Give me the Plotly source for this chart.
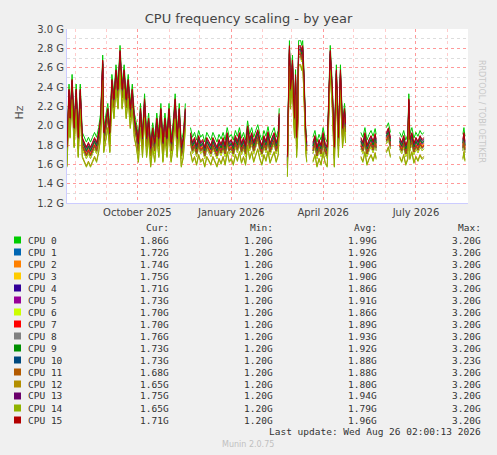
import pandas as pd
import plotly.graph_objects as go

# ── Datos ─────────────────────────────────────────────────────────────────────
START = pd.Timestamp("2025-07-24")
# tramos de datos: días desde START y valor medio (GHz)
SEG_DAYS = [
    [0, 2, 3, 5, 7, 9, 11, 13, 15, 17, 19, 21, 23, 25, 27, 29, 31, 33, 35, 36, 38, 40, 42, 44, 46,
     48, 50, 52, 54, 56, 58, 60, 62, 64, 66, 68, 70, 72, 74, 76, 78, 80, 82, 84, 86, 88, 90, 92, 94,
     96, 98, 100, 102, 104, 106, 108, 110, 112, 114, 116],
    [121, 123, 125, 127, 129, 131, 133, 135, 137, 139, 141, 143, 145, 147, 149, 151, 153, 155, 157,
     159, 161, 163, 165, 167, 169, 171, 173, 175, 177, 179, 181, 183, 185, 187, 189, 191, 193, 195,
     197, 199, 201, 203, 205, 207, 208],
    [216, 218, 219, 221, 222, 223, 224, 225, 226, 227, 228, 229, 230, 231, 232, 233, 234, 235],
    [241, 243, 245, 247, 249, 251, 253, 255, 256, 258, 260, 262, 264, 266, 268, 270, 272, 273],
    [288, 290, 292, 294, 296, 298, 300, 302, 303],
    [313, 315, 317],
    [326, 328, 330, 332, 334, 335, 336, 338, 340, 342, 344, 346, 348, 350],
    [388, 389, 390],
]
SEG_VALS = [
    [1.70, 2.30, 2.00, 2.40, 1.90, 2.30, 1.80, 2.30, 1.80, 1.75, 1.70, 1.75, 1.70, 1.75, 1.80, 1.75,
     1.85, 2.00, 2.60, 1.85, 2.00, 2.10, 1.85, 2.40, 2.20, 2.50, 2.30, 2.70, 2.30, 2.50, 2.20, 2.40,
     2.10, 2.30, 2.00, 1.90, 1.75, 2.10, 1.80, 2.20, 1.80, 2.00, 1.70, 1.90, 1.75, 2.00, 1.80, 2.10,
     1.75, 2.00, 1.80, 2.10, 1.75, 1.90, 2.20, 1.80, 2.10, 1.70, 1.80, 2.10],
    [1.85, 1.75, 1.80, 1.72, 1.82, 1.75, 1.78, 1.70, 1.80, 1.76, 1.72, 1.80, 1.75, 1.70, 1.78, 1.73,
     1.80, 1.72, 1.85, 1.75, 1.78, 1.72, 1.82, 1.76, 1.85, 1.74, 1.80, 1.72, 1.92, 1.78, 1.85, 1.75,
     1.82, 1.88, 1.78, 1.72, 1.82, 1.76, 1.86, 1.74, 1.80, 1.85, 1.75, 1.82, 2.05],
    [1.60, 2.75, 2.30, 2.60, 2.20, 2.00, 2.45, 1.80, 2.00, 2.75, 2.75, 2.75, 2.70, 2.75, 2.50, 2.00,
     1.85, 1.75],
    [1.75, 1.82, 1.70, 1.78, 1.72, 1.85, 1.74, 1.70, 2.00, 2.70, 2.30, 1.70, 2.50, 1.80, 2.50, 1.90,
     2.10, 1.95],
    [1.80, 1.75, 1.85, 1.72, 1.78, 1.82, 1.76, 1.84, 1.78],
    [1.85, 1.90, 1.80],
    [1.80, 1.75, 1.82, 1.72, 1.78, 2.20, 1.78, 1.85, 1.74, 1.80, 1.76, 1.82, 1.78, 1.80],
    [1.78, 1.85, 1.76],
]

CPUS    = [f"CPU {i}" for i in range(16)]
OFFSETS = [0.10, 0.03, 0.01, 0.01, -0.03, 0.02, -0.03, 0.00, 0.04, 0.03, -0.01, -0.01, -0.09, 0.05, -0.10, 0.06]
COLORS  = ["#00cc00", "#0066b3", "#ff8000", "#ffcc00", "#330099", "#990099", "#ccff00", "#ff0000",
           "#808080", "#008f00", "#00487d", "#b35a00", "#b38f00", "#6b006b", "#8fb300", "#b30000"]
CUR = ["1.86G", "1.72G", "1.74G", "1.75G", "1.71G", "1.73G", "1.70G", "1.70G",
       "1.76G", "1.73G", "1.73G", "1.68G", "1.65G", "1.75G", "1.65G", "1.71G"]
MIN = ["1.20G"] * 16
AVG = ["1.99G", "1.92G", "1.90G", "1.90G", "1.86G", "1.91G", "1.86G", "1.89G",
       "1.93G", "1.92G", "1.88G", "1.88G", "1.80G", "1.94G", "1.79G", "1.96G"]
MAX = ["3.20G"] * 10 + ["3.23G"] + ["3.20G"] * 5

# ── Series con huecos (None entre tramos) ─────────────────────────────────────
xs, base = [], []
for days, vals in zip(SEG_DAYS, SEG_VALS):
    xs += [START + pd.Timedelta(days=d) for d in days] + [START + pd.Timedelta(days=days[-1] + 1)]
    base += vals + [None]

fig = go.Figure()
for name, off, col in zip(CPUS, OFFSETS, COLORS):
    ys = [None if v is None else (v + off * 1.3) * 1e9 for v in base]
    fig.add_trace(go.Scatter(x=xs, y=ys, mode="lines", name=name,
                             line=dict(color=col, width=1), connectgaps=False))

# ── Leyenda estilo munin ─────────────────────────────────────────────────────
MONO = dict(family="DejaVu Sans Mono", size=9.5, color="#333333")
COL_X = [171, 275, 379, 483]
ann = []
top, step = 240, 12
for cx, head in zip(COL_X, ["Cur:", "Min:", "Avg:", "Max:"]):
    ann.append(dict(x=cx, y=227, text=head, xanchor="right"))
for i, name in enumerate(CPUS):
    y = top + i * step
    ann.append(dict(x=26, y=y, text=name, xanchor="left"))
    for cx, arr in zip(COL_X, [CUR, MIN, AVG, MAX]):
        ann.append(dict(x=cx, y=y, text=arr[i], xanchor="right"))
ann.append(dict(x=483, y=432, text="Last update: Wed Aug 26 02:00:13 2026", xanchor="right"))


def px(x):
    return (x - 67) / 401


def py(y):
    return 1 - (y - 29) / 174


annotations = [dict(a, xref="paper", yref="paper", showarrow=False, yanchor="middle",
                    font=MONO, x=px(a["x"]), y=py(a["y"])) for a in ann]
annotations += [
    dict(xref="paper", yref="paper", x=px(248), y=py(444), text="Munin 2.0.75", showarrow=False,
         yanchor="middle", font=dict(family="DejaVu Sans", size=8, color="#c0c0c0")),
    dict(xref="paper", yref="paper", x=px(10), y=py(113), text="Hz", textangle=-90, showarrow=False,
         font=dict(family="DejaVu Sans", size=11, color="#555555")),
    dict(xref="paper", yref="paper", x=px(488), y=py(58), text="RRDTOOL / TOBI OETIKER", textangle=90,
         showarrow=False, font=dict(family="DejaVu Sans", size=8, color="#c8c8c8")),
]
shapes = [dict(type="rect", xref="paper", yref="paper", x0=px(14), x1=px(21),
               y0=py(top + i * step + 3.5), y1=py(top + i * step - 3.5),
               fillcolor=c, line=dict(width=0)) for i, c in enumerate(COLORS)]

fig.update_layout(
    width=497, height=455, margin=dict(l=67, r=29, t=29, b=252),
    paper_bgcolor="#f0f0f0", plot_bgcolor="white", showlegend=False,
    title=dict(text="CPU frequency scaling - by year", x=0.5, y=1 - 18 / 455, xanchor="center",
               yanchor="middle", font=dict(family="DejaVu Sans", size=13, color="#444444")),
    annotations=annotations, shapes=shapes,
    font=dict(family="DejaVu Sans", size=10, color="#444444"),
)
fig.update_xaxes(range=[START, START + pd.Timedelta(days=393)],
                 tickvals=["2025-10-01", "2026-01-01", "2026-04-01", "2026-07-01"],
                 ticktext=["October 2025", "January 2026", "April 2026", "July 2026"],
                 showgrid=True, gridcolor="#ff9999", griddash="dot", gridwidth=1,
                 minor=dict(dtick="M1", showgrid=True, gridcolor="#ffcccc", griddash="dot"),
                 showline=True, linecolor="#ccccff", ticks="", zeroline=False)
fig.update_yaxes(range=[1.2e9, 3.0e9], tickvals=[1.2e9 + 0.2e9 * k for k in range(10)],
                 ticktext=[f"{1.2 + 0.2 * k:.1f} G" for k in range(10)],
                 showgrid=True, gridcolor="#ff9999", griddash="dot",
                 minor=dict(dtick=0.1e9, showgrid=True, gridcolor="#dddddd", griddash="dot"),
                 showline=True, linecolor="#ccccff", ticks="", zeroline=False)

fig.write_html("out.html", config={"displayModeBar": False},
               post_script="document.body.style.margin='0';document.body.style.background='#f0f0f0';")
